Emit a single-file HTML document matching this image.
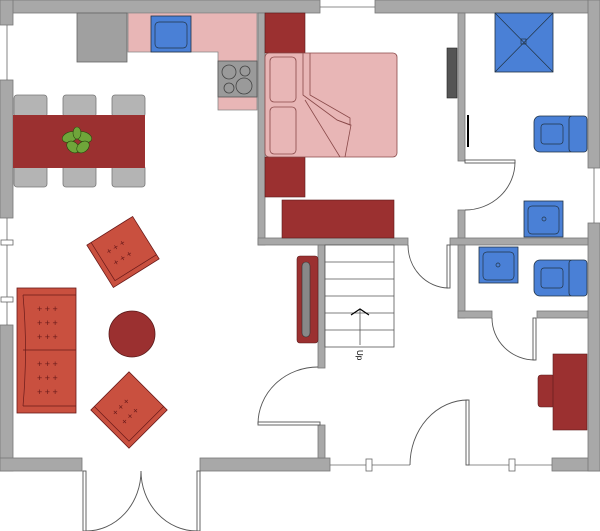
<!DOCTYPE html>
<html><head><style>html,body{margin:0;padding:0;background:#fff}svg{display:block}</style></head>
<body>
<svg width="600" height="531" viewBox="0 0 600 531" xmlns="http://www.w3.org/2000/svg">
<g fill="#a8a8a8" stroke="#777" stroke-width="0.8">
<!-- outer walls -->
<rect x="0" y="0" width="320" height="13"/>
<rect x="375" y="0" width="225" height="13"/>
<rect x="0" y="0" width="13" height="25"/>
<rect x="0" y="80" width="13" height="138"/>
<rect x="0" y="325" width="13" height="146"/>
<rect x="0" y="458" width="82" height="13"/>
<rect x="200" y="458" width="130" height="13"/>
<rect x="552" y="458" width="48" height="13"/>
<rect x="588" y="0" width="12" height="168"/>
<rect x="588" y="223" width="12" height="248"/>
<!-- interior -->
<rect x="258" y="13" width="7" height="232"/>
<rect x="258" y="238" width="150" height="7"/>
<rect x="318" y="245" width="7" height="123"/>
<rect x="318" y="425" width="7" height="33"/>
<rect x="458" y="13" width="7" height="148"/>
<rect x="458" y="210" width="7" height="35"/>
<rect x="450" y="238" width="138" height="7"/>
<rect x="458" y="245" width="7" height="73"/>
<rect x="458" y="311" width="34" height="7"/>
<rect x="537" y="311" width="51" height="7"/>
</g>
<!-- windows -->
<g fill="#fff" stroke="#666" stroke-width="0.8">
<line x1="7" y1="25" x2="7" y2="80"/><line x1="7" y1="218" x2="7" y2="325"/>
<rect x="1" y="240" width="12" height="5"/><rect x="1" y="297" width="12" height="5"/>
<line x1="320" y1="7" x2="375" y2="7"/>
<line x1="594" y1="168" x2="594" y2="223"/>
<line x1="330" y1="465" x2="410" y2="465"/><rect x="366" y="459" width="6" height="12"/>
<line x1="468" y1="465" x2="552" y2="465"/><rect x="509" y="459" width="6" height="12"/>
</g>
<!-- doors -->
<g fill="none" stroke="#555" stroke-width="0.9">
<rect x="83" y="471" width="3" height="60" fill="#fff"/><rect x="197" y="471" width="3" height="60" fill="#fff"/>
<path d="M86 531 A55 60 0 0 0 141 471"/><path d="M197 531 A56 60 0 0 1 141 471"/>
<rect x="258" y="422" width="62" height="3" fill="#fff"/><path d="M258 424 A60 57 0 0 1 318 367"/>
<rect x="466" y="400" width="3" height="65" fill="#fff"/><path d="M410 465 A58 65 0 0 1 468 400"/>
<rect x="447" y="245" width="3" height="43" fill="#fff"/><path d="M408 245 A41 43 0 0 0 448 288"/>
<rect x="465" y="160" width="50" height="3" fill="#fff"/><path d="M515 162 A50 48 0 0 1 465 210"/>
<rect x="533" y="318" width="3" height="42" fill="#fff"/><path d="M492 318 A43 42 0 0 0 535 360"/>
</g>
<!-- kitchen -->
<rect x="77" y="13" width="50" height="49" fill="#a0a0a0" stroke="#666" stroke-width="0.8"/>
<path d="M128 13H257V110H218V52H128Z" fill="#e8b6b6" stroke="#888" stroke-width="0.8"/>
<rect x="151" y="16" width="40" height="36" fill="#4a80d6" stroke="#234" stroke-width="0.8"/>
<rect x="155" y="22" width="32" height="26" rx="4" fill="none" stroke="#234" stroke-width="0.7"/>
<rect x="218" y="61" width="39" height="36" fill="#9a9a9a" stroke="#555" stroke-width="0.8"/>
<g fill="none" stroke="#444" stroke-width="0.8"><circle cx="229" cy="72" r="7"/><circle cx="245" cy="71" r="5"/><circle cx="229" cy="88" r="5"/><circle cx="244" cy="86" r="8"/></g>
<!-- dining -->
<g fill="#b4b4b4" stroke="#777" stroke-width="0.8">
<rect x="14" y="95" width="33" height="22" rx="3"/><rect x="63" y="95" width="33" height="22" rx="3"/><rect x="112" y="95" width="33" height="22" rx="3"/>
<rect x="14" y="165" width="33" height="22" rx="3"/><rect x="63" y="165" width="33" height="22" rx="3"/><rect x="112" y="165" width="33" height="22" rx="3"/>
</g>
<rect x="13" y="115" width="132" height="53" fill="#9b3030"/>
<g fill="#6fa53a" stroke="#2a4a10" stroke-width="0.6">
<ellipse cx="70" cy="137" rx="8" ry="5" transform="rotate(-20 70 137)"/><ellipse cx="84" cy="137" rx="8" ry="5" transform="rotate(20 84 137)"/>
<ellipse cx="73" cy="147" rx="7" ry="5" transform="rotate(40 73 147)"/><ellipse cx="83" cy="147" rx="7" ry="5" transform="rotate(-40 83 147)"/>
<ellipse cx="77" cy="133" rx="4" ry="6"/></g>
<!-- bedroom -->
<rect x="265" y="13" width="40" height="40" fill="#9b3030" stroke="#5a1a1a" stroke-width="0.6"/>
<rect x="265" y="157" width="40" height="40" fill="#9b3030" stroke="#5a1a1a" stroke-width="0.6"/>
<rect x="282" y="200" width="112" height="38" fill="#9b3030" stroke="#5a1a1a" stroke-width="0.6"/>
<rect x="265" y="53" width="132" height="104" rx="4" fill="#e8b6b6" stroke="#8a4a4a" stroke-width="0.8"/>
<g fill="none" stroke="#8a4a4a" stroke-width="0.8">
<rect x="270" y="57" width="26" height="45" rx="4"/><rect x="270" y="107" width="26" height="47" rx="4"/>
<path d="M303 53V95L337 120L350 125V118L310 95V53"/><path d="M305 100L340 157M337 120L351 125L345 157"/>
</g>
<rect x="447" y="48" width="10" height="50" fill="#555" stroke="#222" stroke-width="0.6"/>
<line x1="468" y1="115" x2="468" y2="147" stroke="#000" stroke-width="2"/>
<!-- bathroom -->
<rect x="495" y="13" width="58" height="59" fill="#4a80d6" stroke="#234" stroke-width="0.8"/>
<path d="M495 13L553 72M553 13L495 72" stroke="#234" stroke-width="0.7"/>
<rect x="521" y="39" width="5" height="5" fill="none" stroke="#234" stroke-width="0.7"/>
<g fill="#4a80d6" stroke="#234" stroke-width="0.8">
<rect x="534" y="116" width="42" height="36" rx="6"/><rect x="569" y="116" width="18" height="36" rx="3"/>
<rect x="524" y="201" width="39" height="36"/>
<rect x="479" y="247" width="39" height="36"/>
<rect x="534" y="260" width="42" height="36" rx="6"/><rect x="569" y="260" width="18" height="36" rx="3"/>
</g>
<g fill="none" stroke="#234" stroke-width="0.7">
<rect x="541" y="124" width="22" height="20" rx="3"/><rect x="541" y="268" width="22" height="20" rx="3"/>
<rect x="528" y="206" width="31" height="28" rx="4"/><rect x="483" y="252" width="31" height="28" rx="4"/>
<circle cx="544" cy="219" r="2"/><circle cx="498" cy="265" r="2"/></g>
<!-- desk -->
<rect x="538" y="375" width="17" height="32" rx="3" fill="#9b3030" stroke="#5a1a1a" stroke-width="0.6"/>
<rect x="553" y="354" width="34" height="76" fill="#9b3030" stroke="#5a1a1a" stroke-width="0.6"/>
<!-- stairs -->
<g fill="#fff" stroke="#555" stroke-width="0.8">
<rect x="325" y="245" width="69" height="102"/>
<line x1="325" y1="262" x2="394" y2="262"/><line x1="325" y1="279" x2="394" y2="279"/><line x1="325" y1="296" x2="394" y2="296"/><line x1="325" y1="313" x2="394" y2="313"/><line x1="325" y1="330" x2="394" y2="330"/>
<line x1="360" y1="345" x2="360" y2="310"/></g>
<path d="M351 315L360 309L369 315" fill="none" stroke="#000" stroke-width="1.2"/>
<text x="0" y="0" font-family="Liberation Sans, sans-serif" font-size="8" transform="translate(357 350) rotate(90)">Up</text>
<rect x="297" y="256" width="21" height="87" rx="3" fill="#9b3030" stroke="#5a1a1a" stroke-width="0.6"/>
<rect x="302" y="262" width="8" height="75" rx="4" fill="#888" stroke="#333" stroke-width="0.6"/>
<!-- living -->
<rect x="17" y="288" width="59" height="125" fill="#c9503f" stroke="#6a1a1a" stroke-width="0.8"/>
<path d="M23 295H76M23 406H76M23 350H76M23 295Q28 350 23 406" fill="none" stroke="#6a1a1a" stroke-width="0.7"/>
<g fill="#6a1a1a" font-family="Liberation Sans,sans-serif" font-size="9">
<text x="37" y="312">+ + +</text><text x="37" y="326">+ + +</text><text x="37" y="340">+ + +</text>
<text x="37" y="367">+ + +</text><text x="37" y="381">+ + +</text><text x="37" y="395">+ + +</text></g>
<circle cx="132" cy="334" r="23" fill="#9b3030" stroke="#5a1a1a" stroke-width="0.8"/>
<g transform="translate(123 252) rotate(-32)">
<rect x="-27" y="-25" width="54" height="50" fill="#c9503f" stroke="#6a1a1a" stroke-width="0.8"/>
<path d="M-22 -25V20H27" fill="none" stroke="#6a1a1a" stroke-width="0.7"/>
<text x="-14" y="-5" font-size="9" fill="#6a1a1a" font-family="Liberation Sans,sans-serif">+ + +</text>
<text x="-14" y="8" font-size="9" fill="#6a1a1a" font-family="Liberation Sans,sans-serif">+ + +</text></g>
<g transform="translate(129 410) rotate(-45)">
<rect x="-27" y="-27" width="54" height="54" fill="#c9503f" stroke="#6a1a1a" stroke-width="0.8"/>
<path d="M-22 -27V22H27" fill="none" stroke="#6a1a1a" stroke-width="0.7"/>
<text x="-14" y="-5" font-size="9" fill="#6a1a1a" font-family="Liberation Sans,sans-serif">+ + +</text>
<text x="-14" y="8" font-size="9" fill="#6a1a1a" font-family="Liberation Sans,sans-serif">+ + +</text></g>
</svg>
</body></html>
